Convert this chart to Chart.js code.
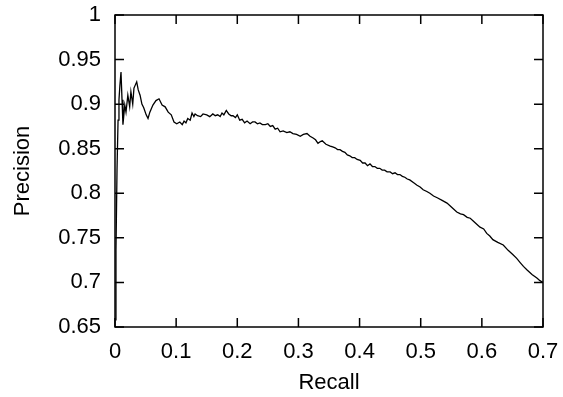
<!DOCTYPE html>
<html>
<head>
<meta charset="utf-8">
<script src="https://cdn.jsdelivr.net/npm/chart.js@4.4.1/dist/chart.umd.min.js"></script>
<style>
  html, body { margin: 0; padding: 0; background: #fff; }
  #wrap { width: 563px; height: 397px; }
</style>
</head>
<body>
<div id="wrap"><canvas id="pr"></canvas></div>
<script>
const recall = [
    0.0008, 0.0016, 0.0033, 0.005, 0.0065, 0.008, 0.0098, 0.0115, 0.013, 0.016,
    0.018, 0.021, 0.024, 0.026, 0.029, 0.031, 0.0355, 0.038, 0.041, 0.044,
    0.047, 0.051, 0.054, 0.057, 0.062, 0.067, 0.072, 0.077, 0.082, 0.087,
    0.092, 0.0965, 0.101, 0.106, 0.110, 0.113, 0.116, 0.119, 0.123, 0.126,
    0.129, 0.131, 0.135, 0.140, 0.144, 0.150, 0.155, 0.160, 0.164, 0.168,
    0.172, 0.175, 0.178, 0.182, 0.186, 0.190, 0.193, 0.197, 0.200, 0.204,
    0.208, 0.212, 0.216, 0.221, 0.225, 0.229, 0.233, 0.237, 0.241, 0.246,
    0.250, 0.254, 0.258, 0.262, 0.266, 0.270, 0.275, 0.281, 0.286, 0.291,
    0.297, 0.303, 0.308, 0.314, 0.319, 0.324, 0.328, 0.332, 0.336, 0.339,
    0.345, 0.352, 0.356, 0.360, 0.364, 0.368, 0.372, 0.376, 0.380, 0.384,
    0.388, 0.392, 0.396, 0.401, 0.405, 0.409, 0.413, 0.417, 0.421, 0.425,
    0.429, 0.433, 0.437, 0.441, 0.445, 0.450, 0.454, 0.458, 0.462, 0.466,
    0.470, 0.474, 0.478, 0.482, 0.488, 0.494, 0.499, 0.504, 0.510, 0.515,
    0.521, 0.527, 0.535, 0.543, 0.551, 0.559, 0.565, 0.570, 0.576, 0.581,
    0.589, 0.597, 0.603, 0.608, 0.613, 0.618, 0.626, 0.635, 0.643, 0.651,
    0.657, 0.663, 0.668, 0.674, 0.682, 0.690, 0.695, 0.700
];
const precision = [
    0.658, 0.736, 0.826, 0.882, 0.905, 0.921, 0.936, 0.905, 0.877, 0.899,
    0.891, 0.910, 0.897, 0.914, 0.900, 0.918, 0.925, 0.916, 0.910, 0.900,
    0.896, 0.888, 0.884, 0.891, 0.899, 0.904, 0.906, 0.899, 0.897, 0.891,
    0.888, 0.880, 0.878, 0.880, 0.877, 0.881, 0.879, 0.884, 0.882, 0.890,
    0.886, 0.889, 0.887, 0.886, 0.889, 0.888, 0.886, 0.889, 0.887, 0.888,
    0.886, 0.890, 0.888, 0.893, 0.889, 0.887, 0.887, 0.885, 0.888, 0.882,
    0.883, 0.879, 0.881, 0.878, 0.880, 0.880, 0.878, 0.879, 0.877, 0.877,
    0.878, 0.875, 0.876, 0.872, 0.873, 0.869, 0.870, 0.868, 0.869, 0.867,
    0.866, 0.864, 0.866, 0.867, 0.864, 0.862, 0.860, 0.856, 0.858, 0.859,
    0.855, 0.853, 0.852, 0.851, 0.849, 0.849, 0.847, 0.846, 0.843, 0.842,
    0.840, 0.840, 0.838, 0.837, 0.834, 0.834, 0.831, 0.833, 0.830, 0.830,
    0.828, 0.828, 0.826, 0.826, 0.824, 0.824, 0.822, 0.823, 0.821, 0.821,
    0.819, 0.818, 0.816, 0.815, 0.812, 0.809, 0.807, 0.804, 0.802, 0.800,
    0.797, 0.795, 0.792, 0.789, 0.784, 0.779, 0.777, 0.776, 0.773, 0.772,
    0.767, 0.762, 0.760, 0.755, 0.752, 0.748, 0.745, 0.742, 0.736, 0.731,
    0.727, 0.722, 0.718, 0.714, 0.709, 0.705, 0.702, 0.700
];
const xTicks = [0, 0.1, 0.2, 0.3, 0.4, 0.5, 0.6, 0.7];
const yTicks = [0.65, 0.7, 0.75, 0.8, 0.85, 0.9, 0.95, 1];

const font = { family: "'Liberation Sans', Arial, sans-serif", size: 22 };

// gnuplot-style frame: full box with inward ticks on every side
const frame = {
    id: 'frame',
    afterDraw(chart) {
        const { ctx, chartArea: a, scales: { x, y } } = chart;
        const len = 9;
        ctx.save();
        ctx.strokeStyle = '#000';
        ctx.lineWidth = 1.5;
        ctx.strokeRect(a.left, a.top, a.right - a.left, a.bottom - a.top);
        ctx.beginPath();
        xTicks.forEach((v) => {
            const px = x.getPixelForValue(v);
            ctx.moveTo(px, a.bottom); ctx.lineTo(px, a.bottom - len);
            ctx.moveTo(px, a.top); ctx.lineTo(px, a.top + len);
        });
        yTicks.forEach((v) => {
            const py = y.getPixelForValue(v);
            ctx.moveTo(a.left, py); ctx.lineTo(a.left + len, py);
            ctx.moveTo(a.right, py); ctx.lineTo(a.right - len, py);
        });
        ctx.stroke();
        ctx.restore();
    },
};

new Chart(document.getElementById('pr'), {
    type: 'line',
    data: {
        datasets: [{
            data: recall.map((r, i) => ({ x: r, y: precision[i] })),
            borderColor: '#000',
            borderWidth: 1.3,
            pointRadius: 0,
            tension: 0,
            fill: false,
        }],
    },
    options: {
        responsive: true,
        maintainAspectRatio: false,
        animation: false,
        events: [],
        layout: { padding: { left: 0, top: 15, right: 20, bottom: 0 } },
        plugins: { legend: { display: false }, tooltip: { enabled: false } },
        scales: {
            x: {
                type: 'linear',
                min: 0,
                max: 0.7,
                afterBuildTicks: (s) => { s.ticks = xTicks.map((v) => ({ value: v })); },
                afterFit: (s) => { s.height = 70; s.paddingLeft = 0; s.paddingRight = 0; },
                ticks: { color: '#000', font, padding: 12, maxRotation: 0, callback: (v) => String(+v.toFixed(2)) },
                grid: { display: false, drawTicks: false },
                border: { display: false },
                title: { display: true, text: 'Recall', color: '#000', font, padding: { top: 0, bottom: 1 } },
            },
            y: {
                min: 0.65,
                max: 1,
                afterBuildTicks: (s) => { s.ticks = yTicks.map((v) => ({ value: v })); },
                afterFit: (s) => { s.width = 115; s.paddingTop = 0; s.paddingBottom = 0; },
                ticks: { color: '#000', font, padding: 14, callback: (v) => String(+v.toFixed(2)) },
                grid: { display: false, drawTicks: false },
                border: { display: false },
                title: { display: true, text: 'Precision', color: '#000', font, padding: { top: 10, bottom: 0 } },
            },
        },
    },
    plugins: [frame],
});
</script>
</body>
</html>
